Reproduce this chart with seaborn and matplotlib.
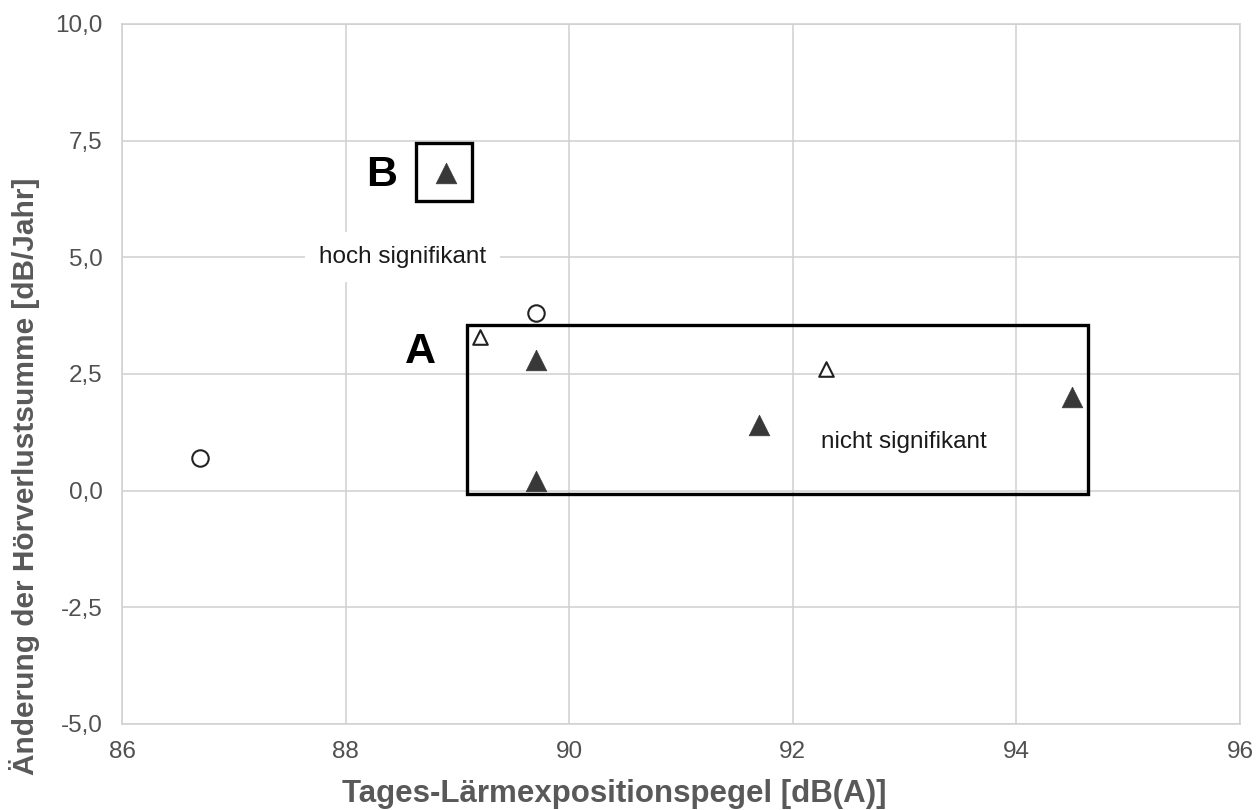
import matplotlib
matplotlib.use("Agg")
import matplotlib.pyplot as plt
from matplotlib.patches import Rectangle
import seaborn as sns
import pandas as pd

# Measured groups
circle_x = [86.7, 89.7]
circle_y = [0.7, 3.8]

open_tri_x = [89.2, 92.3]
open_tri_y = [3.3, 2.6]

filled_tri_x = [88.9, 89.7, 89.7, 91.7, 94.5]
filled_tri_y = [6.8, 2.8, 0.2, 1.4, 2.0]

x_ticks = [86, 88, 90, 92, 94, 96]
y_ticks = [-5.0, -2.5, 0.0, 2.5, 5.0, 7.5, 10.0]
y_tick_labels = ["-5,0", "-2,5", "0,0", "2,5", "5,0", "7,5", "10,0"]

# Region boxes: (x0, y0, x1, y1)
box_a = (89.09, -0.07, 94.64, 3.55)
box_b = (88.63, 6.21, 89.13, 7.45)

sns.set_theme(style="white")
plt.rcParams["font.family"] = ["Liberation Sans", "DejaVu Sans"]

fig = plt.figure(figsize=(12.59, 8.10), dpi=100)
ax = fig.add_axes([0.0969, 0.1062, 0.8881, 0.8642])

grid_col = "#d0d0d0"
ax.set_xlim(86, 96)
ax.set_ylim(-5, 10)
ax.set_xticks(x_ticks)
ax.set_yticks(y_ticks)
ax.set_yticklabels(y_tick_labels)
ax.grid(True, color=grid_col, linewidth=1.1, zorder=0)
ax.set_axisbelow(True)
for sp in ax.spines.values():
    sp.set_color(grid_col)
    sp.set_linewidth(1.1)
ax.tick_params(axis="both", length=0, labelsize=17.5, colors="#505050")
ax.tick_params(axis="y", pad=14)
ax.tick_params(axis="x", pad=12)

df_c = pd.DataFrame({"x": circle_x, "y": circle_y})
df_o = pd.DataFrame({"x": open_tri_x, "y": open_tri_y})
df_f = pd.DataFrame({"x": filled_tri_x, "y": filled_tri_y})

sns.scatterplot(data=df_c, x="x", y="y", ax=ax, marker="o", s=140,
                facecolor="white", edgecolor="#222222", linewidth=1.5, zorder=4)
sns.scatterplot(data=df_o, x="x", y="y", ax=ax, marker="^", s=110,
                facecolor="white", edgecolor="#222222", linewidth=1.5, zorder=4)
sns.scatterplot(data=df_f, x="x", y="y", ax=ax, marker="^", s=220,
                color="#383838", edgecolor="#383838", linewidth=0.5, zorder=4)

for (x0, y0, x1, y1) in (box_a, box_b):
    ax.add_patch(Rectangle((x0, y0), x1 - x0, y1 - y0, fill=False,
                           edgecolor="black", linewidth=2.4, zorder=3))

ax.text(88.32, 6.76, "B", fontsize=31, fontweight="bold", color="black",
        ha="center", va="center", zorder=5)
ax.text(88.67, 2.98, "A", fontsize=31, fontweight="bold", color="black",
        ha="center", va="center", zorder=5)
ax.text(88.51, 5.0, "hoch signifikant", fontsize=17.5, color="#1a1a1a",
        ha="center", va="center", zorder=5,
        bbox=dict(facecolor="white", edgecolor="none", pad=10))
ax.text(92.99, 1.05, "nicht signifikant", fontsize=17.5, color="#1a1a1a",
        ha="center", va="center", zorder=5)

ax.set_xlabel("Tages-Lärmexpositionspegel [dB(A)]", fontsize=22.5,
              fontweight="bold", color="#595959")
ax.set_ylabel("Änderung der Hörverlustsumme [dB/Jahr]", fontsize=21.5,
              fontweight="bold", color="#595959")
ax.xaxis.set_label_coords(0.44, -0.078)
ax.yaxis.set_label_coords(-0.073, 0.354)

fig.savefig("out.png", dpi=100)
